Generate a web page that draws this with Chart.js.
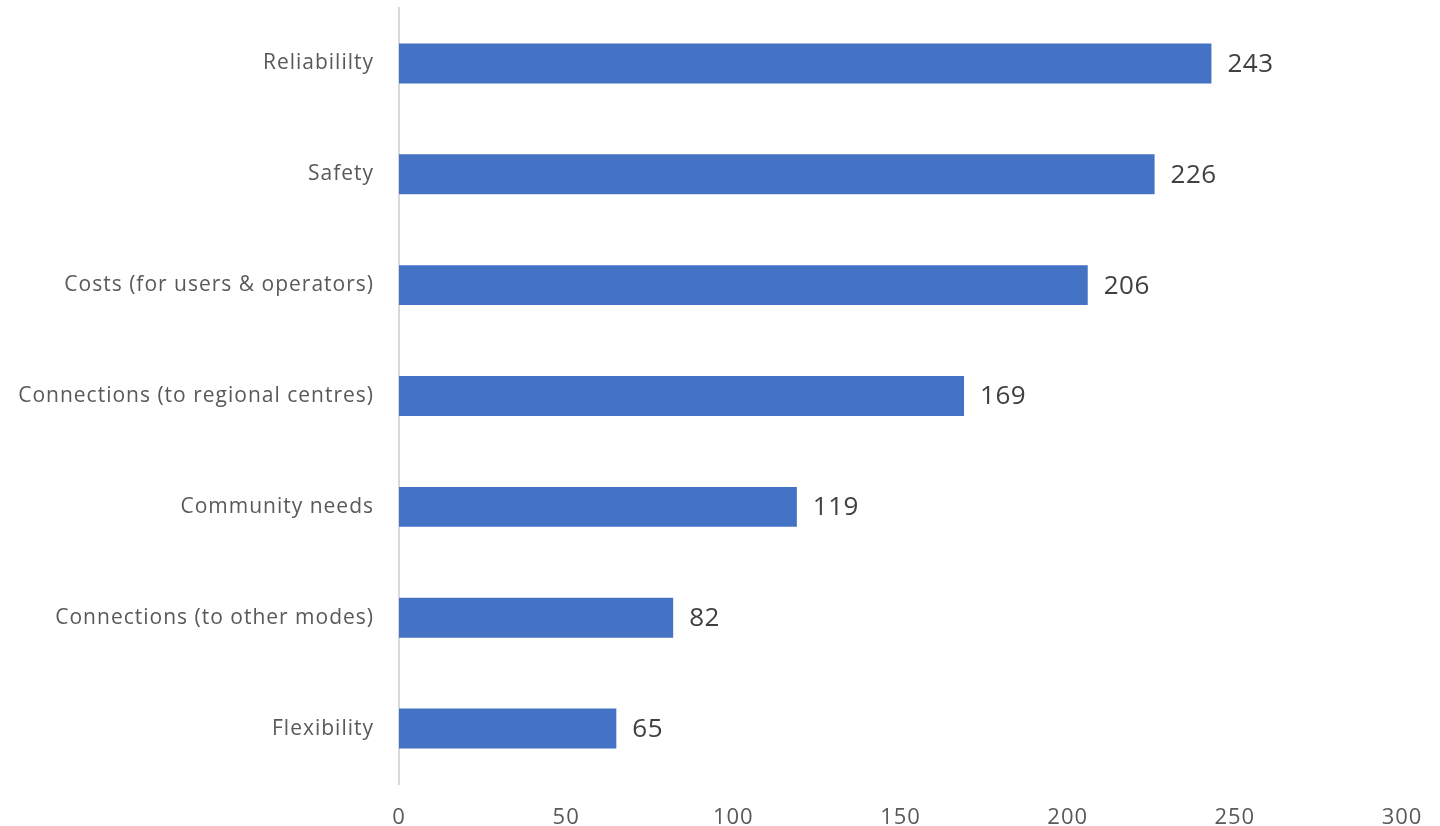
<!DOCTYPE html>
<html>
<head>
<meta charset="utf-8">
<script src="https://cdn.jsdelivr.net/npm/chart.js@4/dist/chart.umd.min.js"></script>
<style>
  html, body { margin: 0; padding: 0; background: #fff; }
  #wrap { width: 1440px; height: 826px; position: relative; }
</style>
</head>
<body>
<div id="wrap"><canvas id="priorityChart"></canvas></div>
<script>
// Survey: what matters most (count of responses)
const categories = [
    'Reliabililty',
    'Safety',
    'Costs (for users & operators)',
    'Connections (to regional centres)',
    'Community needs',
    'Connections (to other modes)',
    'Flexibility'
];
const responses = [243, 226, 206, 169, 119, 82, 65];
const axisTicks = [0, 50, 100, 150, 200, 250, 300];

const FONT = "'Open Sans', 'Lato', sans-serif";

// Slightly wider text spacing for all axis labels
const spacing = {
    id: 'spacing',
    beforeDraw(chart) {
        chart.ctx.letterSpacing = '1px';
    }
};

// Value labels to the right of each bar
const valueLabels = {
    id: 'valueLabels',
    afterDatasetsDraw(chart) {
        const ctx = chart.ctx;
        const meta = chart.getDatasetMeta(0);
        ctx.save();
        ctx.letterSpacing = '0.5px';
        ctx.font = '26px ' + FONT;
        ctx.fillStyle = '#404040';
        ctx.textAlign = 'left';
        ctx.textBaseline = 'middle';
        meta.data.forEach((bar, i) => {
            ctx.fillText(String(chart.data.datasets[0].data[i]), bar.x + 16, bar.y + 1);
        });
        ctx.restore();
    }
};

new Chart(document.getElementById('priorityChart'), {
    type: 'bar',
    data: {
        labels: categories,
        datasets: [{
            data: responses,
            backgroundColor: '#4472C4',
            borderWidth: 0,
            categoryPercentage: 1,
            barPercentage: 0.36
        }]
    },
    options: {
        indexAxis: 'y',
        responsive: true,
        maintainAspectRatio: false,
        animation: false,
        layout: { padding: { top: 8, right: 38, left: 0, bottom: 0 } },
        plugins: {
            legend: { display: false },
            tooltip: { enabled: false }
        },
        scales: {
            x: {
                min: 0,
                max: 300,
                afterBuildTicks(axis) {
                    axis.ticks = axisTicks.map(v => ({ value: v }));
                },
                afterFit(axis) {
                    axis.height = 42;
                    axis.paddingLeft = 0;
                    axis.paddingRight = 0;
                },
                grid: { display: false, drawTicks: false },
                border: { display: false },
                ticks: {
                    padding: 21,
                    color: '#595959',
                    font: { family: FONT, size: 22 }
                }
            },
            y: {
                afterFit(axis) {
                    axis.width = 399;
                    axis.paddingTop = 0;
                    axis.paddingBottom = 0;
                },
                grid: { display: false, drawTicks: false },
                border: { display: true, color: '#d9d9d9', width: 2 },
                ticks: {
                    padding: 25,
                    color: '#595959',
                    font: { family: FONT, size: 21 }
                }
            }
        }
    },
    plugins: [spacing, valueLabels]
});
</script>
</body>
</html>
